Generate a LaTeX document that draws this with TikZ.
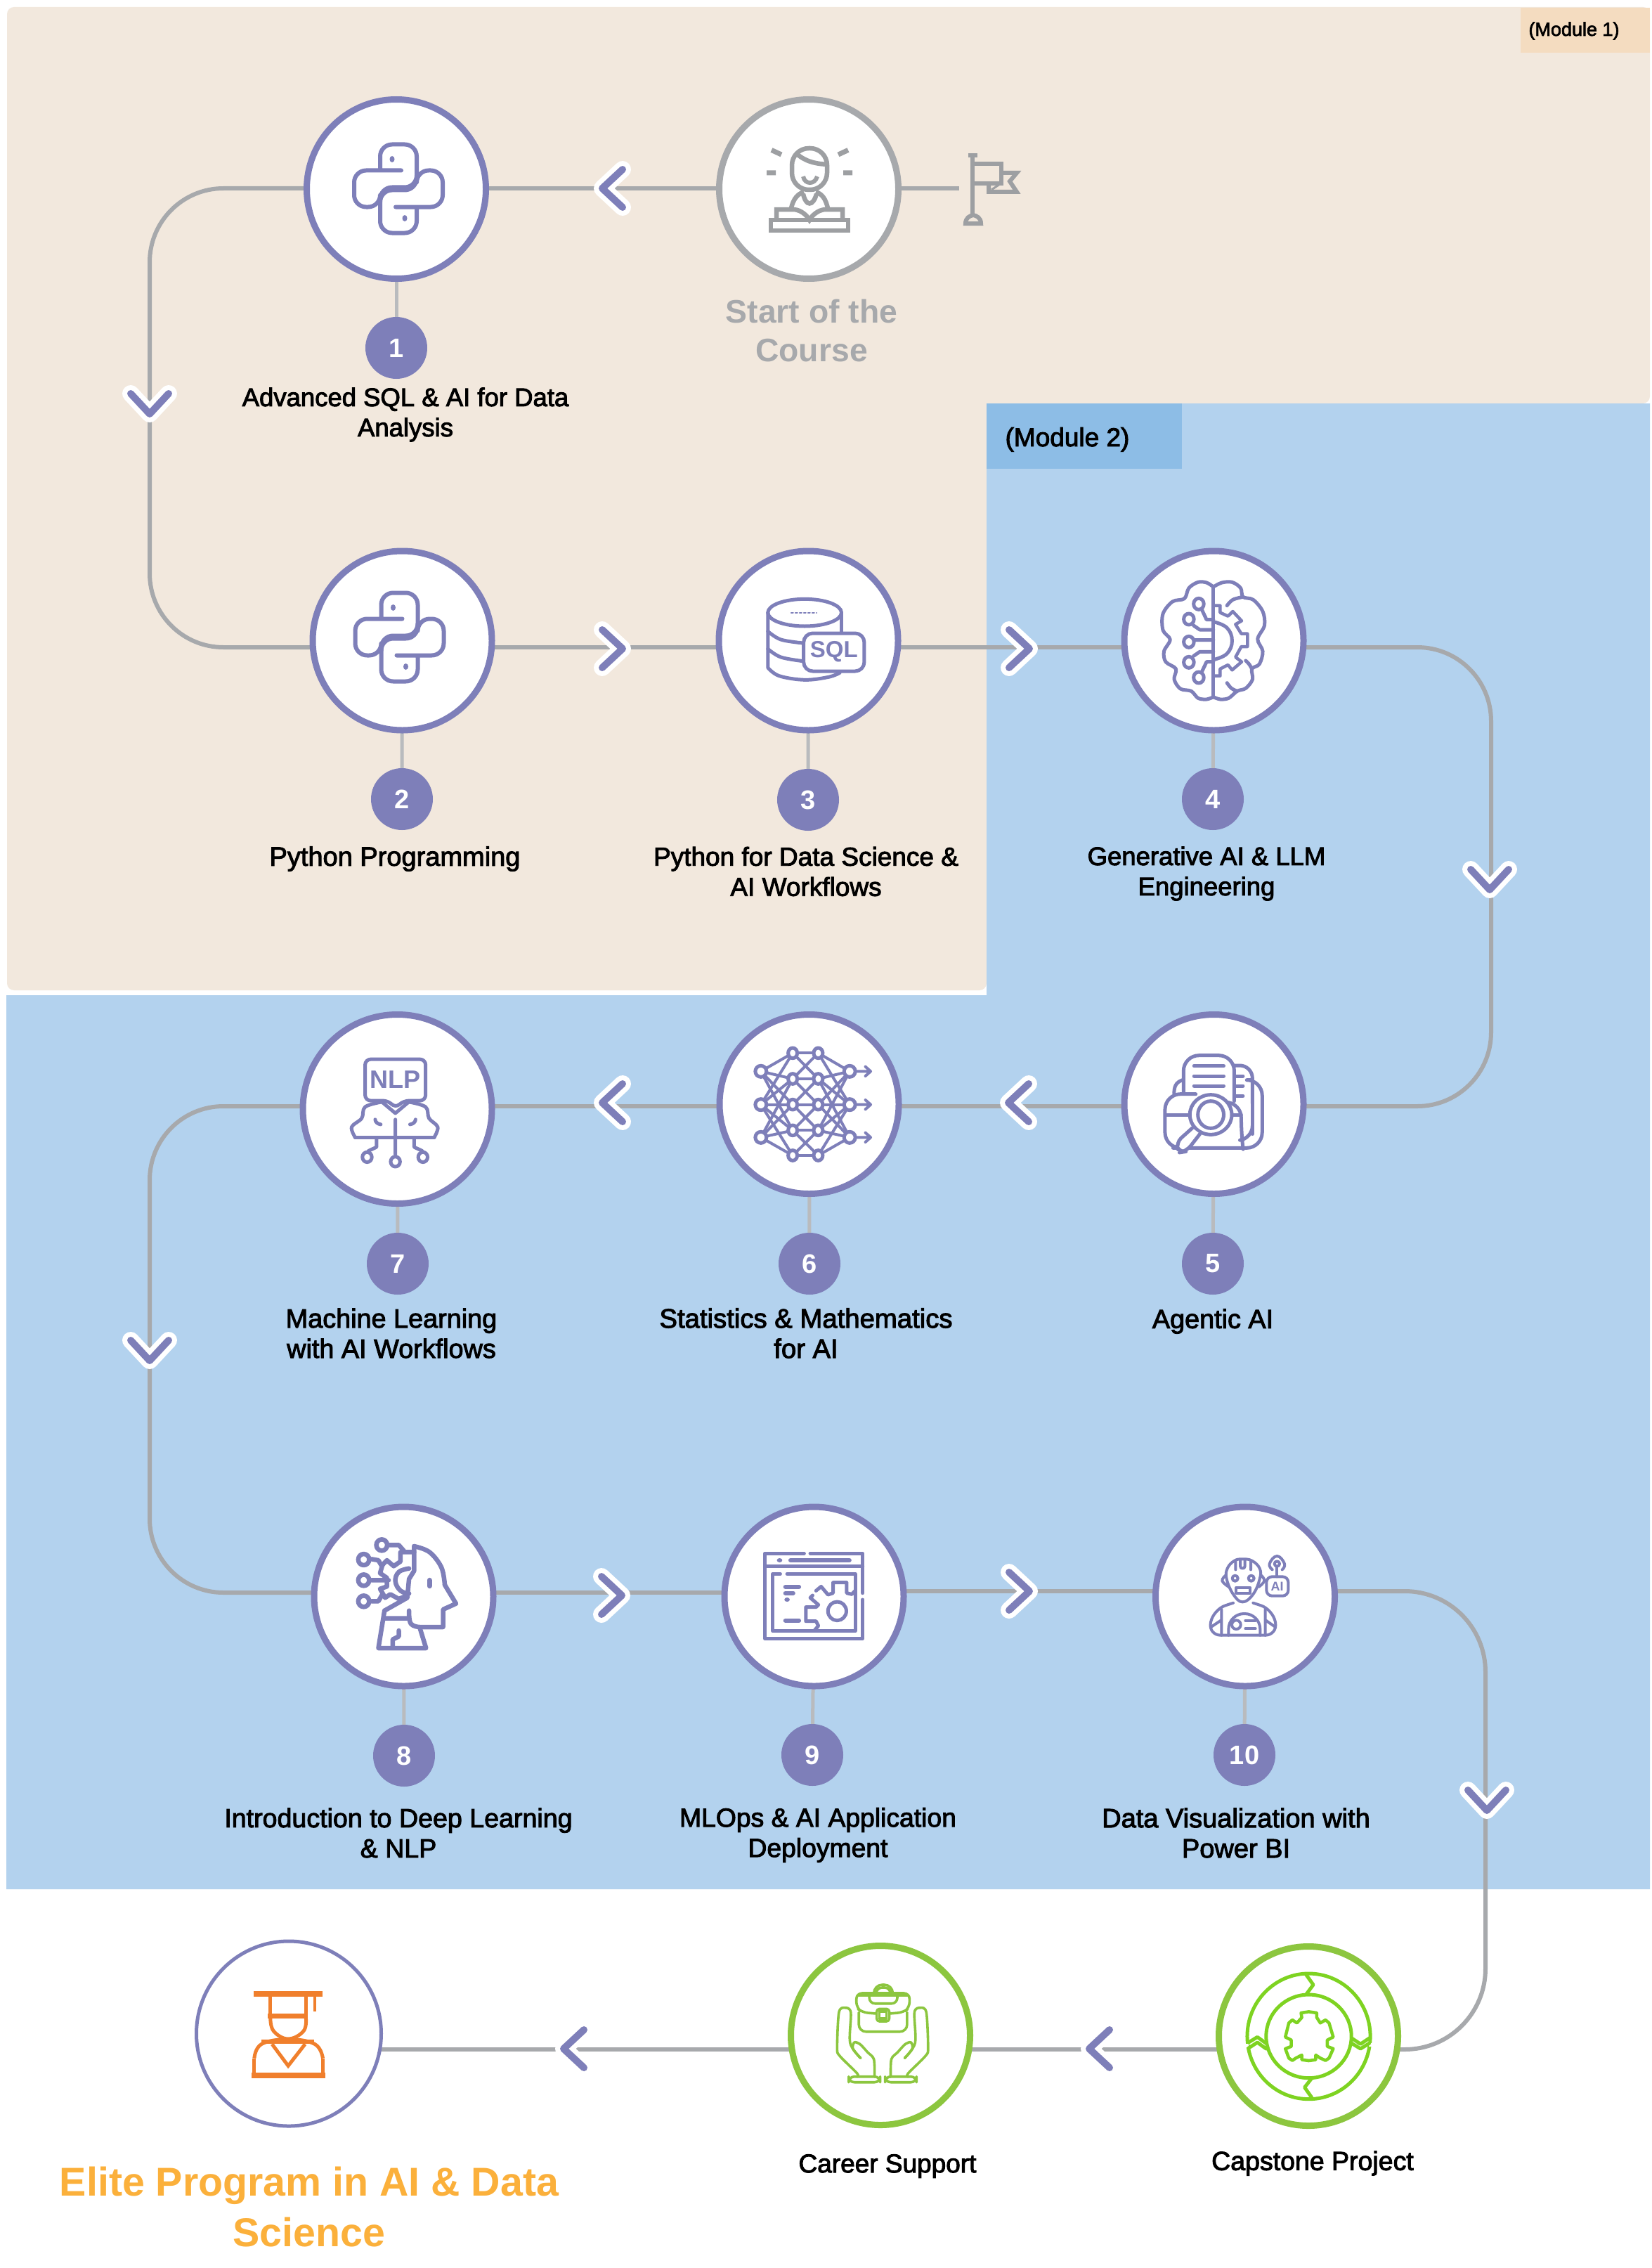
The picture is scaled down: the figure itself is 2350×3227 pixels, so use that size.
\documentclass[tikz,border=0pt]{standalone}
\usepackage{fontspec}
\setmainfont{Liberation Sans}
\newfontfamily\medfont[FakeBold=2.6]{Liberation Sans}
\usetikzlibrary{calc}
\definecolor{beige}{HTML}{F2E8DD}
\definecolor{tagone}{HTML}{F4DCC0}
\definecolor{bluebg}{HTML}{B3D2EE}
\definecolor{tagtwo}{HTML}{8DBDE6}
\definecolor{purp}{HTML}{7E7FB9}
\definecolor{greyline}{HTML}{A7A9AC}
\definecolor{greyicon}{HTML}{9D9FA2}
\definecolor{stubc}{HTML}{B9BBBE}
\definecolor{greenring}{HTML}{8CC63F}
\definecolor{greenicon}{HTML}{7ED321}
\definecolor{orangeicon}{HTML}{F07F2C}
\definecolor{titlec}{HTML}{FBB03B}
\pgfdeclarelayer{bg}
\pgfsetlayers{bg,main}
\tikzset{
  ring/.style={circle,draw=#1,fill=white,line width=9,inner sep=0,outer sep=0,minimum size=255},
  ring/.default=purp,
  badge/.style={circle,fill=purp,text=white,inner sep=0,outer sep=0,minimum size=88,font=\fontsize{38}{38}\selectfont\bfseries},
  lbl/.style={align=center,inner sep=0,font=\fontsize{#1}{43}\medfont,text=black},
  lbl/.default=36.5,
  flow/.style={draw=greyline,line width=6},
  stub/.style={draw=stubc,line width=5},
  ico/.style={draw=purp,line width=5,line join=round,line cap=round},
  gic/.style={draw=greyicon,line width=6.5,line join=miter},
  gri/.style={draw=greenring,line width=3.6,line join=round,line cap=round},
  tgt/.style={draw=greenicon,line width=5,line join=round,line cap=round},
  ori/.style={draw=orangeicon,line width=5,line join=miter},
}
\newcommand{\chev}[3]{%
  \begin{scope}[shift={(#1,#2)},rotate=#3]
    \draw[white,line width=24,line cap=round,line join=round] (-29,-27)--(0,0)--(-29,27);
    \draw[purp,line width=10,line cap=round,line join=round] (-29,-27)--(0,0)--(-29,27);
  \end{scope}}
\newcommand{\pysnake}{%
  \draw[ico,line width=6,rounded corners=17] (4,-26)--(-63,-26)--(-63,26)--(-26,26)--(-26,2)--(26,2)--(26,-63)--(-26,-63)--(-26,-26);
  \fill[purp] (-9,-42) ellipse [x radius=3.5,y radius=4.5];}
\newcommand{\pyicon}[2]{%
  \begin{scope}[shift={(#1,#2)}]
    \pysnake
    \begin{scope}[rotate=180]\pysnake\end{scope}
  \end{scope}}
\begin{document}
\begin{tikzpicture}[x=1pt,y=-1pt]
\useasboundingbox (0,0) rectangle (2350,3227);
\begin{pgfonlayer}{bg}
  \fill[white] (0,0) rectangle (2350,3227);
  \fill[beige,rounded corners=10] (10,10)--(2348,10)--(2348,574)--(1404,574)--(1404,1409)--(10,1409)--cycle;
  \fill[bluebg] (1404,574)--(2348,574)--(2348,2688)--(9,2688)--(9,1416)--(1404,1416)--cycle;
  \fill[tagone] (2164,11) rectangle (2348,75);
  \fill[tagtwo] (1404,574) rectangle (1682,667);
\end{pgfonlayer}
\node[font=\fontsize{27}{27}\medfont,anchor=base,inner sep=0] (m1) at (2240,51) {(Module 1)};
\node[font=\fontsize{37}{37}\medfont,anchor=base,inner sep=0] (m2) at (1519,635) {(Module 2)};

% circles
\node[ring=greyline] (start) at (1151,269) {};
\node[ring] (c1) at (564,269) {};
\node[ring] (c2) at (572.5,911.5) {};
\node[ring] (c3) at (1150.5,911.5) {};
\node[ring] (c4) at (1727.5,911.5) {};
\node[ring] (c5) at (1727.5,1571) {};
\node[ring] (c6) at (1151.5,1571) {};
\node[ring,minimum size=269] (c7) at (565.5,1578) {};
\node[ring] (c8) at (574.5,2271.5) {};
\node[ring] (c9) at (1158.5,2271.5) {};
\node[ring] (c10) at (1772,2271.5) {};
\node[ring=greenring,minimum size=255] (cap) at (1862,2897) {};
\node[ring=greenring,minimum size=255] (car) at (1253,2896) {};
\node[ring,line width=5,minimum size=263] (grad) at (411,2893.5) {};

% badges
\node[badge] (b1) at (564,495) {1};
\node[badge] (b2) at (572,1137) {2};
\node[badge] (b3) at (1150,1138) {3};
\node[badge] (b4) at (1726,1137) {4};
\node[badge] (b5) at (1726,1798) {5};
\node[badge] (b6) at (1152,1798) {6};
\node[badge] (b7) at (566,1798) {7};
\node[badge] (b8) at (575,2498) {8};
\node[badge] (b9) at (1156,2497) {9};
\node[badge] (b10) at (1771,2497) {10};

\coordinate (flagend) at (1365,268);
\begin{pgfonlayer}{bg}
  \foreach \i in {1,...,10}{\draw[stub] (c\i.center) -- (b\i.center);}
  \draw[flow] ([yshift=1]start.center) -- (flagend);
  \draw[flow] ([yshift=1]start.center) -- ([yshift=1]c1.center);
  \draw[flow,rounded corners=105] ([yshift=1]c1.center) -- (213,268) -- (213,921) -- ([yshift=-9.5]c2.center);
  \draw[flow] ([yshift=-9.5]c2.center) -- ([yshift=-9.5]c3.center);
  \draw[flow] ([yshift=-9.5]c3.center) -- ([yshift=-9.5]c4.center);
  \draw[flow,rounded corners=105] ([yshift=-9.5]c4.center) -- (2122,921) -- (2122,1574) -- ([yshift=-3]c5.center);
  \draw[flow] ([yshift=-3]c5.center) -- ([yshift=-3]c6.center);
  \draw[flow] ([yshift=-3]c6.center) -- ([yshift=4]c7.center);
  \draw[flow,rounded corners=105] ([yshift=4]c7.center) -- (213,1574) -- (213,2266) -- ([yshift=5.5]c8.center);
  \draw[flow] ([yshift=5.5]c8.center) -- ([yshift=5.5]c9.center);
  \draw[flow] ([yshift=7.5]c9.center) -- ([yshift=7.5]c10.center);
  \draw[flow,rounded corners=115] ([yshift=7.5]c10.center) -- (2114,2264) -- (2114,2916) -- ([yshift=-19]cap.center);
  \draw[flow] ([yshift=-19]cap.center) -- ([yshift=-20]car.center);
  \draw[flow] ([yshift=-20]car.center) -- ([yshift=-22.5]grad.center);
\end{pgfonlayer}

% chevrons
\chev{857}{268}{180}
\chev{213}{589}{-90}
\chev{886}{923}{0}
\chev{1465}{923}{0}
\chev{2120}{1266}{-90}
\chev{1435}{1569}{180}
\chev{857}{1569}{180}
\chev{213}{1936}{-90}
\chev{885}{2270}{0}
\chev{1465}{2264}{0}
\chev{2116}{2576}{-90}
\chev{1550}{2915}{180}
\chev{802}{2915}{180}

% labels
\node[lbl,anchor=center] (t1) at (577,590) {Advanced SQL \& AI for Data\\Analysis};
\node[align=center,inner sep=0,font=\fontsize{46.3}{55}\selectfont\bfseries,text=greyline] (ts) at (1155,470) {Start of the\\Course};
\node[lbl=38] (t2) at (562,1222) {Python Programming};
\node[lbl=37] (t3) at (1147,1240) {Python for Data Science \&\\AI Workflows};
\node[lbl] (t4) at (1717,1243) {Generative AI \& LLM\\Engineering};
\node[lbl=37.8] (t5) at (1726,1880) {Agentic AI};
\node[lbl=38.3] (t6) at (1147,1897) {Statistics \& Mathematics\\for AI};
\node[lbl=37.8] (t7) at (557,1897) {Machine Learning\\with AI Workflows};
\node[lbl=37.6] (t8) at (567,2608) {Introduction to Deep Learning\\\& NLP};
\node[lbl=37.3] (t9) at (1164,2611) {MLOps \& AI Application\\Deployment};
\node[lbl=38] (t10) at (1759,2608) {Data Visualization with\\Power BI};
\node[lbl=37] (tcar) at (1263,3082) {Career Support};
\node[lbl=37.5] (tcap) at (1868,3078) {Capstone Project};
\node[align=center,inner sep=0,font=\fontsize{57.3}{72}\selectfont\bfseries,text=titlec] (tel) at (440,3140) {Elite Program in AI \& Data\\Science};

% ---------- icons
% start person
\begin{scope}
  \draw[gic,line width=7] (1098,213.5)--(1112,220) (1091,246)--(1104,246) (1193,220)--(1207,213.5) (1200,246)--(1213,246);
  \draw[gic,rounded corners=24] (1127,211) rectangle (1177,270);
  \draw[gic] (1135,220) .. controls (1150,232) and (1165,233) .. (1177,234);
  \draw[gic,line width=6] (1143,251) .. controls (1145,263) and (1160,263) .. (1163,251);
  \draw[gic] (1126,296) .. controls (1129,283) and (1135,276) .. (1144,273) (1178,296) .. controls (1175,283) and (1170,276) .. (1161,273);
  \draw[gic] (1143,276) .. controls (1147,294) and (1157,294) .. (1162,276);
  \draw[gic] (1097,313) rectangle (1207,328);
  \draw[gic] (1105,313)--(1105,298)--(1130,298) .. controls (1140,299) and (1148,306) .. (1152,313) .. controls (1156,306) and (1164,299) .. (1174,298)--(1199,298)--(1199,313);
\end{scope}
% flag
\draw[gic,line width=6] (1378,221)--(1391,221) (1384,221)--(1384,306);
\draw[gic,line width=6] (1384,233)--(1425,233)--(1425,261)--(1384,261);
\draw[gic,line width=6] (1425,246)--(1447,246)--(1437,258)--(1447,273)--(1407,273)--(1407,261);
\draw[gic,line width=3] (1411,270)--(1423,262);
\draw[gic,line width=6] (1374,318) .. controls (1374,310) and (1380,307) .. (1385,306) .. controls (1390,307) and (1396,310) .. (1396,318) --cycle;
% python icons
\pyicon{567}{268.5}
\pyicon{568.5}{906.5}
% SQL
\begin{scope}[shift={(1070,820)},xscale=1/2.063,yscale=1/3]
  \draw[ico] (155,155) ellipse [x radius=108,y radius=58];
  \draw[ico] (47,155)--(47,390) plot[smooth,tension=0.6] coordinates {(47,390)(80,425)(155,442)(225,430)(258,412)};
  \draw[ico] (263,155)--(263,240);
  \draw[ico] plot[smooth,tension=0.6] coordinates {(47,235)(85,270)(150,285)};
  \draw[ico] plot[smooth,tension=0.6] coordinates {(47,310)(85,345)(150,362)};
  \draw[ico,line width=2,dashed] (115,155)--(190,155);
  \draw[ico,fill=white,rounded corners=13] (152,243) rectangle (330,405);
  \node[text=purp,inner sep=0,font=\fontsize{33}{33}\selectfont\bfseries] (sqltxt) at (241,322) {SQL};
\end{scope}
% brain
\begin{scope}[shift={(1070,820)},xscale=1/2.063,yscale=1/3]
  \draw[ico] (1355,45)--(1355,515);
  \draw[ico] plot[smooth,tension=0.55] coordinates {(1355,45)(1335,27)(1310,25)(1283,50)(1270,95)(1235,108)(1207,160)(1207,230)(1228,270)(1210,320)(1215,365)(1245,395)(1240,440)(1258,480)(1290,490)(1310,520)(1335,525)(1355,515)};
  \draw[ico] plot[smooth,tension=0.55] coordinates {(1355,45)(1380,27)(1410,25)(1435,50)(1442,88)(1472,100)(1500,150)(1505,210)(1485,268)(1500,320)(1490,375)(1468,395)(1470,440)(1450,478)(1425,490)(1400,520)(1375,525)(1355,515)};
  \draw[ico] plot[smooth,tension=0.6] coordinates {(1395,125)(1412,100)(1442,88)};
  \draw[ico] plot[smooth,tension=0.6] coordinates {(1450,360)(1460,375)(1468,395)};
  \draw[ico] plot[smooth,tension=0.6] coordinates {(1395,455)(1408,478)(1425,490)};
  \draw[ico,line width=4.5] (1360,125)--(1375,125)--(1375,155)--(1398,170)--(1412,150)--(1438,190)--(1420,205)--(1437,245)--(1455,245)--(1455,300)--(1437,300)--(1420,345)--(1438,365)--(1410,400)--(1398,378)--(1375,395)--(1375,425)--(1360,425);
  \draw[ico] plot[smooth,tension=0.7] coordinates {(1358,195)(1395,220)(1410,275)(1395,330)(1358,355)};
  \draw[ico] (1322,145)--(1335,185)--(1355,185) (1297,210)--(1315,228)--(1355,228) (1300,272)--(1355,272) (1297,340)--(1315,322)--(1355,322) (1322,405)--(1335,365)--(1355,365);
  \foreach \p in {(1312,118),(1283,183),(1283,280),(1283,367),(1312,432)}
    \draw[ico,fill=white] \p ellipse [x radius=15,y radius=24];
\end{scope}
% NLP
\begin{scope}[shift={(400,1400)},xscale=1/1.0453,yscale=1/2.8]
  \draw[ico,rounded corners=8] (160,465)--(125,465)--(125,300)--(215,300)--(215,465)--(182,465)--(170,495)--cycle;
  \node[text=purp,inner sep=0,font=\fontsize{36}{36}\selectfont\bfseries] (nlptxt) at (170,382) {NLP};
  \draw[ico] plot[smooth,tension=0.6] coordinates {(150,470)(125,490)(120,535)(105,570)(110,610)};
  \draw[ico] plot[smooth,tension=0.6] coordinates {(190,470)(215,490)(220,535)(233,570)(228,610)};
  \draw[ico] (110,612)--(228,612);
  \draw[ico] (150,470)--(170,515)--(190,470);
  \draw[ico] (170,540)--(170,680) (140,540) arc[start angle=180,end angle=100,x radius=10,y radius=20] (200,540) arc[start angle=0,end angle=80,x radius=10,y radius=20];
  \draw[ico] (142,615)--(142,650)--(130,665) (198,615)--(198,650)--(210,665);
  \foreach \p in {(128,690),(170,708),(211,690)} \draw[ico,fill=white] \p ellipse [x radius=7,y radius=20];
\end{scope}
% network
\begin{scope}[shift={(1050,1470)},xscale=1/2.01,yscale=1/3]
  \def\Ax{66}\def\Bx{157}\def\Cx{230}\def\Dx{320}
  \foreach \a/\b in {163/85,163/195,163/305,163/415,305/85,305/195,305/305,305/415,305/522,445/195,445/305,445/415,445/522}{
    \draw[ico,line width=4] (\Ax,\a)--(\Bx,\b);
    \draw[ico,line width=4] (\Dx,\a)--(\Cx,\b);}
  \foreach \a/\b in {85/85,85/195,195/85,195/195,195/305,305/195,305/305,305/415,415/305,415/415,415/522,522/415,522/522}
    \draw[ico,line width=4] (\Bx,\a)--(\Cx,\b);
  \foreach \y in {163,305,445}{
    \draw[ico,line width=4] (340,\y)--(378,\y) (365,\y-20)--(380,\y)--(365,\y+20);
    \draw[ico,fill=white] (\Ax,\y) ellipse [x radius=16,y radius=24];
    \draw[ico,fill=white] (\Dx,\y) ellipse [x radius=16,y radius=24];}
  \foreach \y in {85,195,305,415,522}{
    \draw[ico,fill=white] (\Bx,\y) ellipse [x radius=13,y radius=22];
    \draw[ico,fill=white] (\Cx,\y) ellipse [x radius=13,y radius=22];}
\end{scope}
% doc search
\begin{scope}[shift={(1050,1470)},xscale=1/2.01,yscale=1/3]
  \draw[ico,rounded corners=18] (1472,300)--(1472,138)--(1420,138);
  \draw[ico,rounded corners=18] (1472,430)--(1472,450)--(1445,455);
  \draw[ico] (1472,300)--(1472,430);
  \draw[ico,rounded corners=22] (1472,200)--(1500,200)--(1500,490)--(1270,490);
  \draw[ico,rounded corners=22] (1275,290)--(1275,95)--(1420,95)--(1420,290);
  \draw[ico] (1305,140)--(1390,140) (1305,183)--(1390,183) (1305,225)--(1390,225) (1425,183)--(1445,183) (1425,225)--(1445,225) (1425,268)--(1445,268);
  \draw[ico] (1272,200) .. controls (1252,210) and (1248,230) .. (1248,258);
  \draw[ico,fill=white,rounded corners=22] (1310,260)--(1222,260)--(1222,490)--(1245,490);
  \draw[ico,rounded corners=22] (1400,295)--(1440,295)--(1440,430)--(1445,490);
  \draw[ico] (1225,348)--(1295,348) (1410,348)--(1440,348);
  \draw[ico,fill=white] (1353,348) ellipse [x radius=60,y radius=85];
  \draw[ico] (1353,348) ellipse [x radius=37,y radius=58];
  \draw[ico,fill=white,rounded corners=10] (1300,405)--(1253,468)--(1262,510)--(1283,505)--(1322,430);
\end{scope}
% head
\begin{scope}[shift={(490,2170)},xscale=1/2.063,yscale=1/3]
  \tikzset{hd/.style={ico,line width=6.5}}
  \draw[hd] plot[smooth,tension=0.6] coordinates {(205,90)(250,115)(285,180)(295,255)};
  \draw[hd] (295,255)--(328,335)--(290,360)--(290,435)--(220,435);
  \draw[hd] plot[smooth,tension=0.7] coordinates {(220,435)(195,420)(190,365)};
  \draw[hd] (120,398)--(190,398) (118,365)--(185,310)--(190,230)--(205,195)--(205,90);
  \draw[hd] (118,365)--(100,525)--(240,525)--(222,440);
  \draw[hd] (160,450)--(160,475)--(142,488)--(142,520);
  \draw[hd,line width=7] (250,235)--(250,260);
  \draw[hd] (205,115)--(165,115)--(165,155)--(145,175)--(125,150)--(112,170)--(105,205)--(125,225)--(125,262)--(105,272)--(120,310)--(135,295)--(160,315)--(185,300);
  \draw[hd] plot[smooth,tension=0.7] coordinates {(190,185)(160,200)(150,240)(165,280)(190,292)};
  \draw[hd] (130,85)--(160,85)--(175,110) (80,145)--(100,150)--(110,175) (80,235)--(130,235) (80,325)--(100,325)--(110,300);
  \foreach \p in {(110,85),(57,147),(57,235),(57,325)} \draw[hd,fill=white] \p ellipse [x radius=16,y radius=24];
\end{scope}
% window gear
\begin{scope}[shift={(490,2170)},xscale=1/2.063,yscale=1/3]
  \draw[ico] (1350,120)--(1235,120)--(1235,485)--(1522,485)--(1522,318) (1522,290)--(1522,120)--(1368,120);
  \draw[ico] (1235,175)--(1522,175);
  \fill[purp] (1278,150) ellipse [x radius=8,y radius=9];
  \draw[ico,line width=6] (1310,150)--(1483,150);
  \draw[ico] (1280,208)--(1258,208)--(1258,452)--(1500,452)--(1500,208)--(1300,208);
  \draw[ico,line width=6] (1295,263)--(1335,263) (1295,290)--(1318,290) (1295,407)--(1335,407);
  \fill[purp] (1300,318) ellipse [x radius=8,y radius=9];
  \draw[ico] (1385,280)--(1400,262)--(1420,297)--(1435,290)--(1435,245)--(1475,245)--(1475,290)--(1490,295)--(1500,280);
  \draw[ico] (1375,300)--(1368,310)--(1392,340)--(1385,350)--(1355,350)--(1355,410)--(1385,410)--(1392,430)--(1380,450);
  \draw[ico] (1447,367) ellipse [x radius=27,y radius=40];
\end{scope}
% robot
\begin{scope}[shift={(1680,2190)},xscale=1/3,yscale=1/3]
  \tikzset{rb/.style={ico,line width=4}}
  \draw[rb] plot[smooth cycle,tension=0.7] coordinates {(197,170)(200,125)(230,92)(265,85)(305,92)(338,125)(338,170)(310,235)(265,268)(225,235)};
  \draw[rb] plot[smooth,tension=0.7] coordinates {(192,155)(178,178)(205,203)};
  \draw[rb] plot[smooth,tension=0.7] coordinates {(345,155)(358,178)(335,203)};
  \draw[rb] (235,95)--(235,130) (300,95)--(300,130) (255,90)--(255,115) .. controls (255,128) and (275,128) .. (275,115)--(275,90);
  \draw[rb] (233,167) circle [radius=12] (302,167) circle [radius=12];
  \draw[rb] (238,207) rectangle (298,230);
  \draw[rb,rounded corners=8] (367,160) rectangle (460,242);
  \node[text=purp,inner sep=0,font=\fontsize{18}{18}\selectfont\bfseries] (aitxt) at (413,202) {AI};
  \draw[rb] (412,105)--(412,160);
  \draw[rb,fill=white] (412,105) circle [radius=11];
  \draw[rb] plot[smooth,tension=0.8] coordinates {(392,130)(380,105)(412,72)(444,105)(434,130)};
  \draw[rb,rounded corners=18] (225,272)--(140,300)--(118,410)--(415,410)--(395,300)--(310,272);
  \draw[rb] (175,300)--(175,410) (362,300)--(362,410) (130,375)--(175,345) (405,375)--(362,345);
  \draw[rb,rounded corners=22] (205,410)--(205,318)--(340,318)--(340,410);
  \draw[rb] (238,365) circle [radius=19];
  \draw[rb] (277,347)--(320,347) (277,382)--(320,382);
\end{scope}
% hands and briefcase
\begin{scope}[shift={(1170,2800)},xscale=1/2.01,yscale=1/3]
  \draw[gri,rounded corners=12] (148,105)--(148,72)--(202,72)--(202,105);
  \draw[gri,rounded corners=8] (155,105)--(155,84)--(195,84)--(195,105);
  \draw[gri,rounded corners=8] (155,195)--(115,190)--(98,170)--(98,108)--(250,108)--(250,170)--(232,190)--(192,195);
  \draw[gri] (100,118)--(248,118);
  \draw[gri,rounded corners=8] (135,118)--(135,152)--(215,152)--(215,118);
  \draw[gri,rounded corners=4] (156,175) rectangle (192,228);
  \draw[gri] (164,186) rectangle (184,216);
  \draw[gri,rounded corners=10] (105,190)--(105,272)--(243,272)--(243,190);
  \foreach \fx/\fs in {0/1,346/-1}{
    \begin{scope}[shift={(\fx,0)},xscale=\fs]
      \draw[gri] plot[smooth,tension=0.5] coordinates {(100,465)(100,450)(50,375)(43,340)(48,190)(65,170)(82,190)(80,320)(110,385)};
      \draw[gri] plot[smooth,tension=0.5] coordinates {(110,385)(88,345)(92,318)(108,325)(130,360)(148,390)(150,465)};
      \draw[gri,rounded corners=8] (76,464) rectangle (166,488);
      \fill[greenring] (150,462) ellipse [x radius=3,y radius=6];
    \end{scope}}
\end{scope}
% target gear
\begin{scope}[shift={(1170,2800)},xscale=1/2.01,yscale=1/3]
  \draw[tgt] (1392,292) ellipse [x radius=176,y radius=268];
  \draw[tgt] (1392,292) ellipse [x radius=122,y radius=178];
  \draw[tgt] (1385,30)--(1405,72)--(1385,112) (1400,472)--(1380,510)--(1400,552);
  \draw[white,line width=5] (1216,325)--(1216,338) (1568,320)--(1568,335);
  \draw[tgt] (1220,318)--(1245,295)--(1270,322) (1220,342)--(1245,318)--(1270,345);
  \draw[tgt] (1515,300)--(1540,325)--(1565,300) (1515,322)--(1540,345)--(1565,322);
  \draw[tgt,line width=4.5] (1370,192)--(1392,187)--(1415,192)--(1415,212)--(1425,235)--(1440,222)--(1450,235)--(1462,295)--(1445,308)--(1445,335)--(1462,345)--(1450,385)--(1440,395)--(1425,385)--(1412,372)--(1412,392)--(1392,396)--(1372,392)--(1372,372)--(1355,385)--(1345,395)--(1335,385)--(1325,345)--(1342,335)--(1342,308)--(1325,295)--(1335,235)--(1345,222)--(1358,235)--(1372,212)--cycle;
\end{scope}
% graduate
\begin{scope}[shift={(200,2700)},xscale=1/0.871,yscale=1/2.975]
  \fill[orangeicon] (140,397) rectangle (226,418);
  \draw[ori,line width=4] (216,418)--(216,482);
  \draw[ori] (161,418)--(161,500) (205,418)--(205,500);
  \fill[orangeicon] (158,490) rectangle (207,511);
  \draw[ori] plot[smooth,tension=0.7] coordinates {(161,510)(165,565)(183,598)(202,565)(205,510)};
  \draw[ori] (141,755)--(141,680);
  \draw[ori] plot[smooth,tension=0.7] coordinates {(141,680)(150,620)(183,600)(216,620)(226,680)};
  \draw[ori] (226,680)--(226,755);
  \fill[orangeicon] (138,742) rectangle (229,764);
  \draw[ori] (163,620)--(183,712)--(204,620);
  \fill[orangeicon] (150,600) rectangle (215,620);
\end{scope}
\end{tikzpicture}
\end{document}
